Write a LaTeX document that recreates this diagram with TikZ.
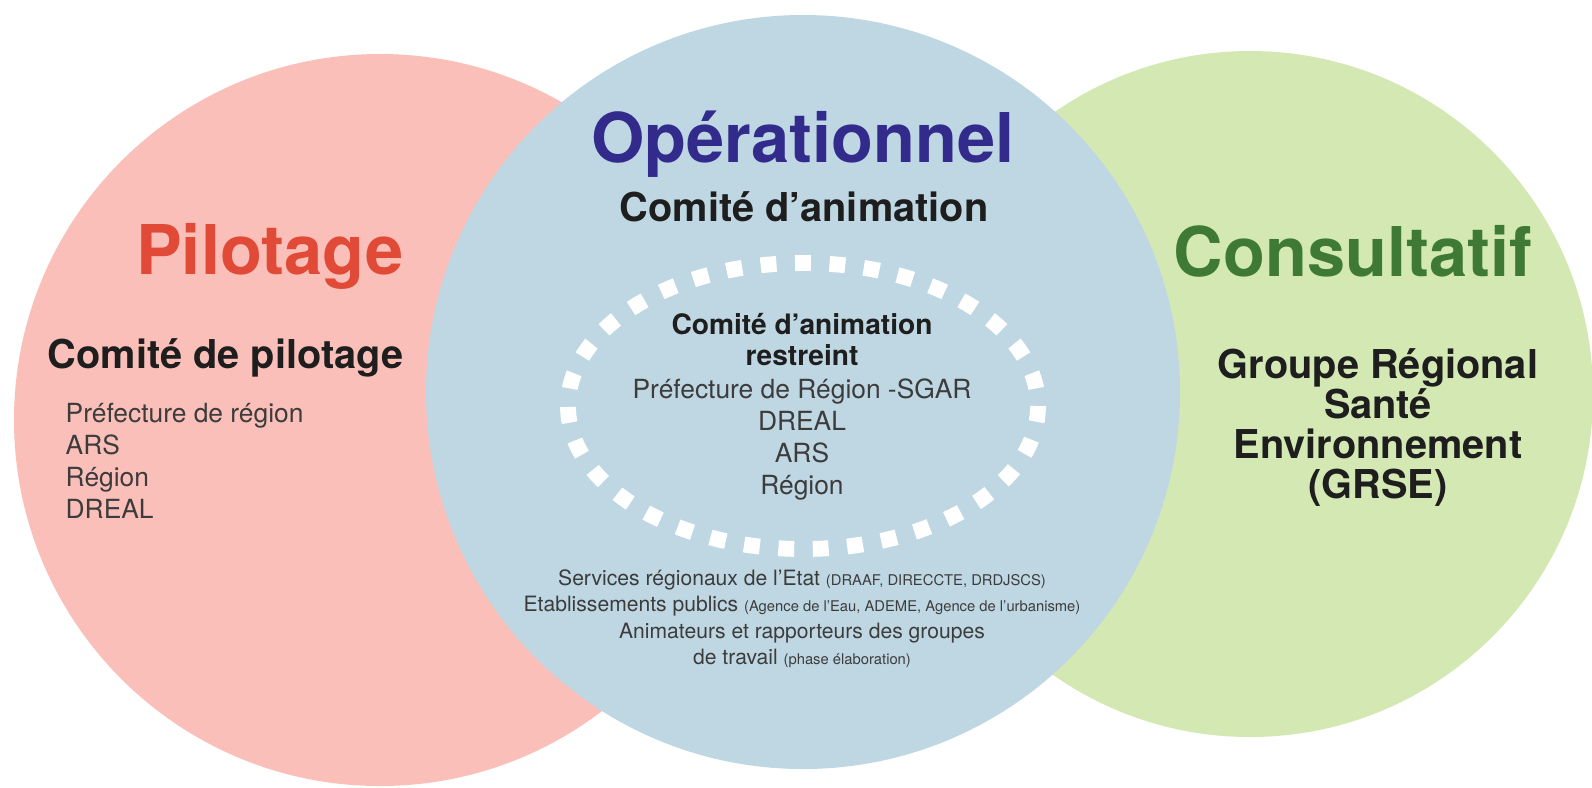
\documentclass[tikz,border=0pt]{standalone}
\usepackage{fontspec}
\setmainfont{TeX Gyre Heros}
\usetikzlibrary{calc}
\definecolor{pilfill}{HTML}{FBBFB9}
\definecolor{opfill}{HTML}{BED7E3}
\definecolor{confill}{HTML}{D3E8B3}
\definecolor{pilred}{HTML}{E04A37}
\definecolor{opblue}{HTML}{332B8C}
\definecolor{congreen}{HTML}{3E7A35}
\definecolor{ink}{HTML}{1E1E1E}
\definecolor{itemgray}{HTML}{3C3C3C}
\tikzset{
  title/.style={font=\bfseries\fontsize{19.5}{22}\selectfont, inner sep=0pt},
  head/.style={text=ink, font=\bfseries\fontsize{11.3}{11.4}\selectfont, inner sep=0pt},
  sub/.style={text=ink, font=\bfseries\fontsize{8}{8.8}\selectfont, inner sep=0pt},
  item/.style={text=itemgray, font=\fontsize{7.5}{9.1}\selectfont, inner sep=0pt},
  foot/.style={text=itemgray, font=\fontsize{6}{7.5}\selectfont, inner sep=0pt},
  ring/.style={draw=white, line width=4.5pt, dash pattern=on 4.5pt off 5.3pt},
}
\newcommand{\paren}[1]{{\fontsize{4.2}{7.5}\selectfont #1}}

\begin{document}
\begin{tikzpicture}[x=0.01cm, y=-0.01cm]
  \fill[white] (0,0) rectangle (1592,787);
  \useasboundingbox (0,0) rectangle (1592,787);

  \coordinate (P) at (380,420);
  \coordinate (O) at (803,392);
  \coordinate (C) at (1250,394);

  % circles
  \fill[pilfill] (P) circle[radius=366];
  \fill[confill] (C) circle[radius=343];
  \fill[opfill] (O) circle[radius=377];

  % inner committee ring
  \draw[ring] (803,406) ellipse[x radius=235, y radius=143];

  % pilotage
  \node[title, text=pilred, anchor=base east] (pil) at (404,274) {Pilotage};
  \node[head, anchor=base east] (copil) at (404,368) {Comité de pilotage};
  \node[item, anchor=north west, align=left] (pilmem) at (65,402)
    {Préfecture de région\\ARS\\Région\\DREAL};

  % operationnel
  \node[title, text=opblue, anchor=base] (op) at (803,162) {Opérationnel};
  \node[head, anchor=base] (coanim) at (804,221) {Comité d’animation};
  \node[sub, anchor=north, align=center] (restr) at (802,313)
    {Comité d’animation\\restreint};
  \node[item, anchor=north, align=center] (restrmem) at (802,378)
    {Préfecture de Région -SGAR\\DREAL\\ARS\\Région};
  \node[foot, anchor=north, align=center] (others) at (802,569)
    {Services régionaux de l'Etat \paren{(DRAAF, DIRECCTE, DRDJSCS)}\\
     Etablissements publics \paren{(Agence de l'Eau, ADEME, Agence de l'urbanisme)}\\
     Animateurs et rapporteurs des groupes\\
     de travail \paren{(phase élaboration)}};

  % consultatif
  \node[title, text=congreen, anchor=base] (con) at (1353,276) {Consultatif};
  \node[head, anchor=north, align=center] (grse) at (1378,348)
    {Groupe Régional\\Santé\\Environnement\\(GRSE)};
\end{tikzpicture}
\end{document}
